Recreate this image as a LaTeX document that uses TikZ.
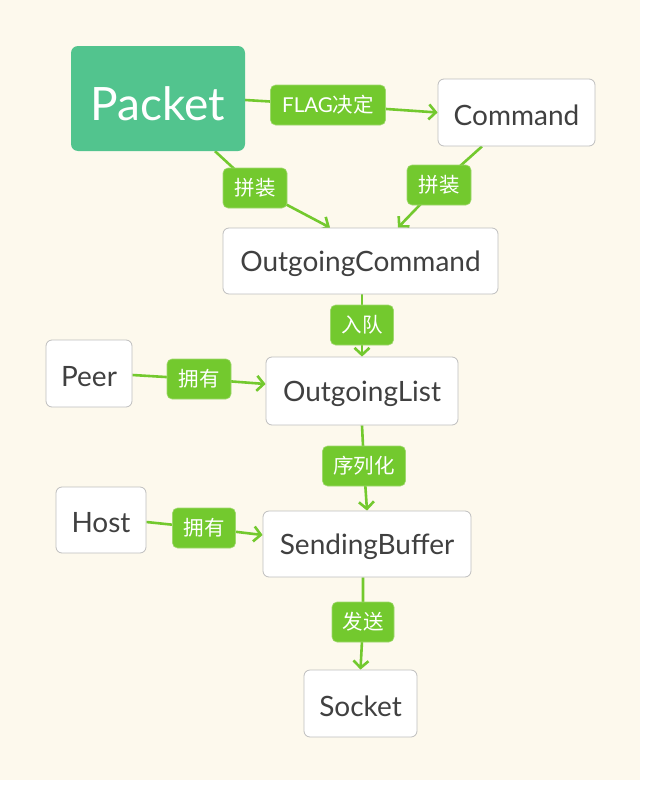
\documentclass[tikz,border=0pt]{standalone}
\usepackage{fontspec}
\setmainfont{Lato}
\newfontfamily\cjk{Noto Sans CJK SC}
\usetikzlibrary{arrows.meta}
\definecolor{cream}{RGB}{253,249,237}
\definecolor{pgreen}{RGB}{82,196,142}
\definecolor{egreen}{RGB}{115,201,46}
\definecolor{lborder}{RGB}{160,216,110}
\definecolor{nborder}{RGB}{190,190,190}
\definecolor{ntext}{RGB}{64,64,64}
\newcommand{\lowr}[2]{\raisebox{-#1}[\height][\depth]{#2}}
\pgfdeclarelayer{bg}
\pgfdeclarelayer{edges}
\pgfsetlayers{bg,edges,main}
\tikzset{
  box/.style={draw=nborder, line width=0.8pt, fill=white, rounded corners=6pt,
    text=ntext, font=\fontsize{28}{32}\selectfont, inner sep=0pt, anchor=center},
  mainbox/.style={fill=pgreen, rounded corners=7pt, text=white,
    font=\fontsize{46}{52}\selectfont, inner sep=0pt, anchor=center},
  lbl/.style={fill=egreen, draw=lborder, line width=0.6pt, rounded corners=5pt, text=white,
    font=\fontsize{20.5}{24}\selectfont, inner sep=0pt, minimum height=40pt, anchor=center},
  edge/.style={draw=egreen, line width=2.6pt, -{Straight Barb[length=7pt,width=15pt,line width=2.6pt]}}
}
\begin{document}
\begin{tikzpicture}[x=1pt,y=-1pt]
\useasboundingbox (0,0) rectangle (645,787);
\begin{pgfonlayer}{bg}
\fill[white] (0,0) rectangle (645,787);
\fill[cream] (0,0) rectangle (640,780);
\end{pgfonlayer}
% nodes
\node[mainbox, minimum width=174pt, minimum height=105pt] (packet) at (158,98.5) {\lowr{5pt}{Packet}};
\node[box, minimum width=157pt, minimum height=67pt] (command) at (516.5,112.5) {\lowr{3pt}{Command}};
\node[box, minimum width=275pt, minimum height=66pt] (ocmd) at (360.5,261) {\lowr{3pt}{OutgoingCommand}};
\node[box, minimum width=86pt, minimum height=67pt] (peer) at (89,373.5) {\lowr{3pt}{Peer}};
\node[box, minimum width=192pt, minimum height=68pt] (olist) at (362,391) {\lowr{3pt}{OutgoingList}};
\node[box, minimum width=90pt, minimum height=66pt] (host) at (101,520) {\lowr{3pt}{Host}};
\node[box, minimum width=208pt, minimum height=66pt] (sbuf) at (367,544) {\lowr{3pt}{SendingBuffer}};
\node[box, minimum width=113pt, minimum height=67pt] (socket) at (360.5,703.5) {\lowr{3pt}{Socket}};
% labels
\node[lbl, minimum width=115pt] (l1) at (328,105) {FLAG{\cjk 决定}};
\node[lbl, minimum width=64pt] (l2) at (255,188) {\cjk 拼装};
\node[lbl, minimum width=64pt] (l3) at (439,185) {\cjk 拼装};
\node[lbl, minimum width=63pt] (l4) at (362,325) {\cjk 入队};
\node[lbl, minimum width=64pt] (l5) at (199,379) {\cjk 拥有};
\node[lbl, minimum width=83pt] (l6) at (364,466) {\cjk 序列化};
\node[lbl, minimum width=63pt] (l7) at (204,528) {\cjk 拥有};
\node[lbl, minimum width=62pt] (l8) at (363,622) {\cjk 发送};
% edges
\begin{pgfonlayer}{edges}
\draw[edge] ([yshift=-1.5pt]packet.east) -- (l1.center) -- (command.west);
\draw[edge] ([xshift=57pt]packet.south) -- (l2.center) -- ([xshift=-30.5pt]ocmd.north);
\draw[edge] ([xshift=-34.5pt]command.south) -- (l3.center) -- ([xshift=37.5pt]ocmd.north);
\draw[edge] (ocmd.south -| olist.north) -- (l4.center) -- (olist.north);
\draw[edge] ([yshift=-1.5pt]peer.east) -- (l5.center) -- ([yshift=7pt]olist.west);
\draw[edge] (olist.south) -- (l6.center) -- (sbuf.north);
\draw[edge] ([yshift=-2pt]host.east) -- (l7.center) -- ([yshift=9pt]sbuf.west);
\draw[edge] ([xshift=-4pt]sbuf.south) -- (l8.center) -- (socket.north);
\end{pgfonlayer}
\end{tikzpicture}
\end{document}
